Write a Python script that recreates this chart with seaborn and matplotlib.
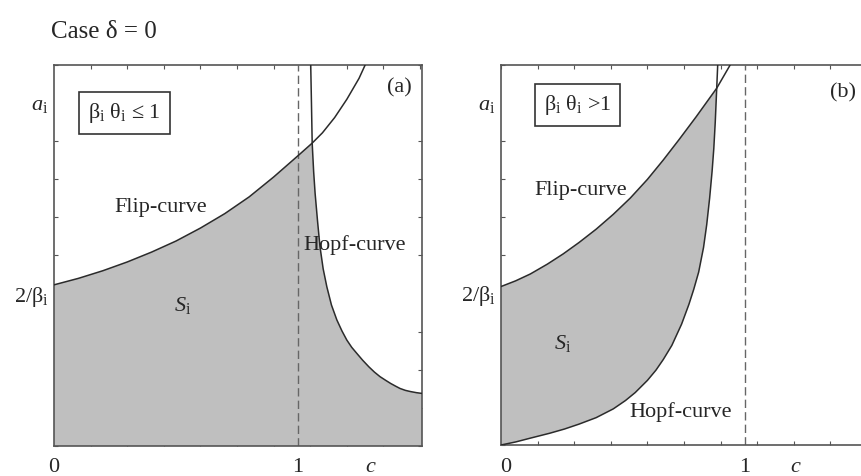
import numpy as np
import pandas as pd
import matplotlib
matplotlib.use("Agg")
import matplotlib.pyplot as plt
from matplotlib.ticker import MultipleLocator
import seaborn as sns

# ---- curve samples (c, a_i) for the two regimes ----
# (a) beta_i * theta_i <= 1
flip_a_c = [0.0, 0.1, 0.2, 0.3, 0.4, 0.5, 0.6, 0.7, 0.8, 0.9, 0.95, 1.0, 1.058,
            1.1, 1.15, 1.2, 1.25, 1.275]
flip_a_v = [0.423, 0.440, 0.460, 0.483, 0.509, 0.538, 0.572, 0.610, 0.654, 0.706,
            0.734, 0.762, 0.795, 0.822, 0.862, 0.910, 0.965, 1.0]
hopf_a_c = [1.052, 1.055, 1.058, 1.064, 1.070, 1.080, 1.090, 1.103, 1.118, 1.137,
            1.159, 1.180, 1.200, 1.220, 1.241, 1.265, 1.290, 1.313, 1.336, 1.360,
            1.380, 1.400, 1.418, 1.440, 1.460, 1.485, 1.508]
hopf_a_v = [1.0, 0.90, 0.795, 0.720, 0.663, 0.590, 0.523, 0.465, 0.418, 0.370,
            0.331, 0.302, 0.278, 0.259, 0.243, 0.225, 0.208, 0.194, 0.182, 0.172,
            0.164, 0.157, 0.151, 0.146, 0.143, 0.140, 0.138]
cross_a = 1.058

# (b) beta_i * theta_i > 1
flip_b_c = [0.0, 0.06, 0.12, 0.19, 0.255, 0.32, 0.39, 0.46, 0.53, 0.6, 0.665,
            0.73, 0.80, 0.884, 0.939]
flip_b_v = [0.417, 0.432, 0.450, 0.476, 0.503, 0.533, 0.568, 0.607, 0.650, 0.699,
            0.750, 0.804, 0.864, 0.939, 1.0]
hopf_b_c = [0.0, 0.06, 0.12, 0.20, 0.26, 0.32, 0.39, 0.46, 0.51, 0.55, 0.60, 0.635,
            0.665, 0.70, 0.74, 0.77, 0.79, 0.81, 0.83, 0.843, 0.855, 0.865, 0.872,
            0.878, 0.884, 0.888]
hopf_b_v = [0.0, 0.008, 0.018, 0.031, 0.042, 0.055, 0.072, 0.095, 0.117, 0.138,
            0.170, 0.197, 0.225, 0.262, 0.318, 0.370, 0.410, 0.455, 0.520, 0.580,
            0.650, 0.720, 0.780, 0.850, 0.939, 1.0]
cross_b = 0.884

c_max = 1.508
x_tick_pos = {"a": [0.0, 1.0, 1.30], "b": [0.02, 1.0, 1.21]}
x_tick_lab = ["0", "1", "$c$"]
y_tick_pos = [0.4, 0.9]
y_tick_lab = ["2/β$_{\\mathrm{i}}$", "$a_{\\mathrm{i}}$"]

sns.set_theme(style="white")
plt.rcParams["font.family"] = ["Liberation Serif", "DejaVu Serif"]
plt.rcParams["mathtext.fontset"] = "custom"
plt.rcParams["mathtext.rm"] = "Liberation Serif"
plt.rcParams["mathtext.it"] = "Liberation Serif:italic"
plt.rcParams["mathtext.bf"] = "Liberation Serif:bold"

FS = 16
LINE = "#2b2b2b"
SHADE = "#bfbfbf"
SPINE = "#555555"

fig = plt.figure(figsize=(8.61, 4.76), dpi=100)
ax_a = fig.add_axes([54 / 861, 30 / 476, 368 / 861, 381 / 476])
ax_b = fig.add_axes([501 / 861, 31 / 476, 368 / 861, 380 / 476])


def style_axes(ax, key):
    ax.set_xlim(0, c_max)
    ax.set_ylim(0, 1)
    ax.set_xticks(x_tick_pos[key])
    ax.set_xticklabels(x_tick_lab, fontsize=FS)
    ax.set_yticks(y_tick_pos)
    ax.set_yticklabels(y_tick_lab, fontsize=FS)
    ax.xaxis.set_minor_locator(MultipleLocator(0.15))
    ax.yaxis.set_minor_locator(MultipleLocator(0.1))
    ax.tick_params(which="major", length=0, pad=9, axis="x")
    ax.tick_params(which="major", length=0, pad=4, axis="y")
    ax.tick_params(which="minor", direction="in", length=3, width=0.8,
                   color=SPINE, top=True, right=True, bottom=True, left=True)
    for s in ax.spines.values():
        s.set_visible(True)
        s.set_color(SPINE)
        s.set_linewidth(1.2)
    ax.set_xlabel("")
    ax.set_ylabel("")


def draw_curve(ax, cs, vs):
    df = pd.DataFrame({"c": cs, "a": vs})
    sns.lineplot(data=df, x="c", y="a", ax=ax, sort=False, estimator=None,
                 color=LINE, lw=1.1, zorder=3)


# ---- panel (a) ----
fc, fv = np.array(flip_a_c), np.array(flip_a_v)
hc, hv = np.array(hopf_a_c), np.array(hopf_a_v)
m_f = fc <= cross_a
m_h = hc >= cross_a
poly_c = np.concatenate([[0.0], fc[m_f], hc[m_h], [hc[-1]]])
poly_v = np.concatenate([[0.0], fv[m_f], hv[m_h], [0.0]])
ax_a.fill(poly_c, poly_v, color=SHADE, lw=0, zorder=1)
draw_curve(ax_a, flip_a_c, flip_a_v)
draw_curve(ax_a, hopf_a_c, hopf_a_v)
ax_a.axvline(1.0, color="#666666", lw=1.0, ls=(0, (6, 3)), zorder=2)
style_axes(ax_a, "a")

ax_a.text(0.289, 0.873, "β$_{\\mathrm{i}}$ θ$_{\\mathrm{i}}$ ≤ $\\mathit{1}$", fontsize=FS,
          ha="center", va="center",
          bbox=dict(boxstyle="square,pad=0.4", fc="white", ec="#333333", lw=1.2))
ax_a.text(0.439, 0.625, "Flip-curve", fontsize=FS, ha="center", va="center")
ax_a.text(1.23, 0.528, "Hopf-curve", fontsize=FS, ha="center", va="center", zorder=4)
ax_a.text(0.525, 0.37, "$S_{\\mathrm{i}}$", fontsize=FS, ha="center", va="center")
ax_a.text(1.414, 0.94, "(a)", fontsize=FS, ha="center", va="center")

# ---- panel (b) ----
fc, fv = np.array(flip_b_c), np.array(flip_b_v)
hc, hv = np.array(hopf_b_c), np.array(hopf_b_v)
m_f = fc <= cross_b
m_h = hc <= cross_b
poly_c = np.concatenate([fc[m_f], hc[m_h][::-1]])
poly_v = np.concatenate([fv[m_f], hv[m_h][::-1]])
ax_b.fill(poly_c, poly_v, color=SHADE, lw=0, zorder=1)
draw_curve(ax_b, flip_b_c, flip_b_v)
draw_curve(ax_b, hopf_b_c, hopf_b_v)
ax_b.axvline(1.0, color="#666666", lw=1.0, ls=(0, (6, 3)), zorder=2)
style_axes(ax_b, "b")

ax_b.text(0.313, 0.895, "β$_{\\mathrm{i}}$ θ$_{\\mathrm{i}}$ >$\\mathit{1}$", fontsize=FS,
          ha="center", va="center",
          bbox=dict(boxstyle="square,pad=0.4", fc="white", ec="#333333", lw=1.2))
ax_b.text(0.328, 0.671, "Flip-curve", fontsize=FS, ha="center", va="center")
ax_b.text(0.738, 0.087, "Hopf-curve", fontsize=FS, ha="center", va="center")
ax_b.text(0.254, 0.268, "$S_{\\mathrm{i}}$", fontsize=FS, ha="center", va="center")
ax_b.text(1.40, 0.926, "(b)", fontsize=FS, ha="center", va="center")

fig.text(104 / 861, 1 - 32 / 476, "Case δ = 0", fontsize=18, ha="center", va="center")

fig.savefig("out.png", dpi=100)
